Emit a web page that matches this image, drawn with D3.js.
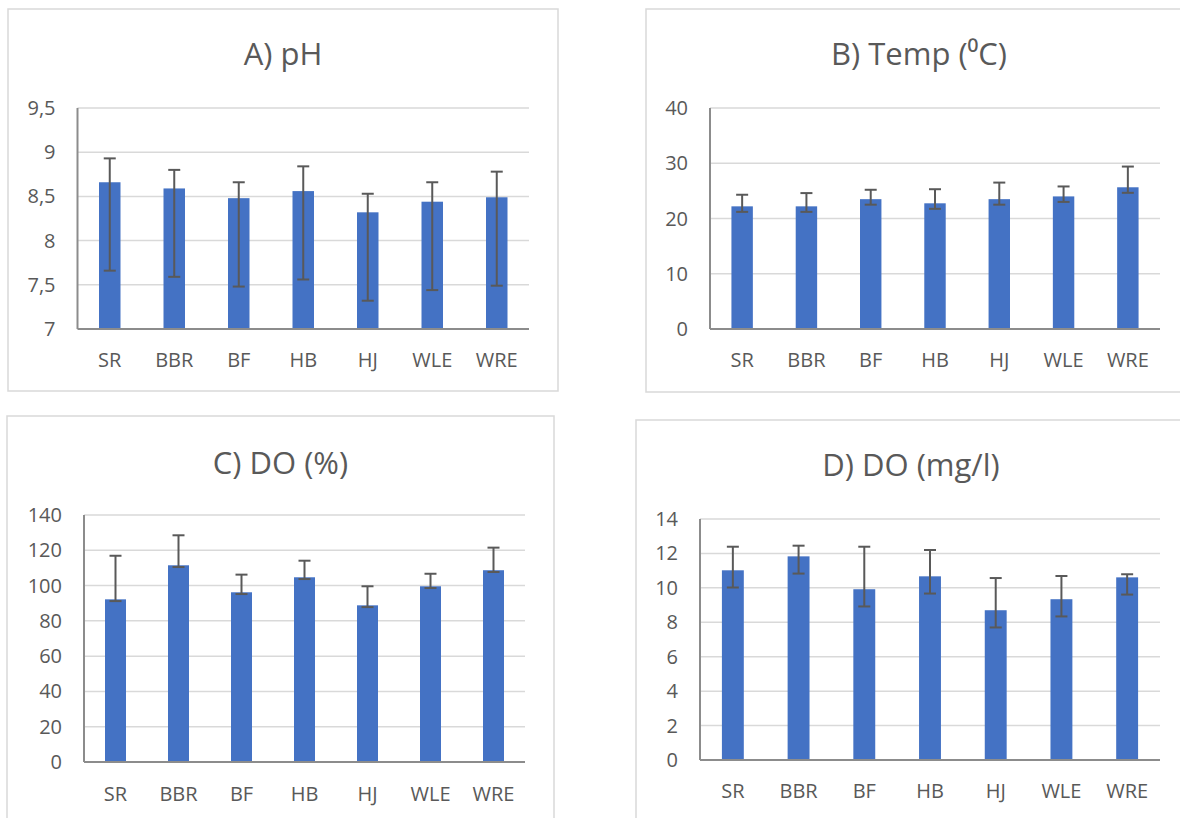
<!DOCTYPE html>
<html>
<head>
<meta charset="utf-8">
<script src="https://cdn.jsdelivr.net/npm/d3@7"></script>
<style>
  html, body { margin: 0; padding: 0; background: #fff; }
  text { font-family: "Open Sans", sans-serif; fill: #595959; }
</style>
</head>
<body>
<div id="js_chart"></div>
<script>
const width = 1180;
const height = 818;

const sites = ["SR", "BBR", "BF", "HB", "HJ", "WLE", "WRE"];

// A) pH
const phMean = [8.66, 8.59, 8.48, 8.56, 8.32, 8.44, 8.49];
const phPlus = [0.27, 0.21, 0.18, 0.28, 0.21, 0.22, 0.29];
const phMinus = [1, 1, 1, 1, 1, 1, 1];
const phTicks = [7, 7.5, 8, 8.5, 9, 9.5];

// B) Temp
const tempMean = [22.2, 22.2, 23.5, 22.75, 23.5, 24.0, 25.65];
const tempPlus = [2.1, 2.4, 1.7, 2.55, 3.0, 1.8, 3.75];
const tempMinus = [1, 1, 1, 1, 1, 1, 1];
const tempTicks = [0, 10, 20, 30, 40];

// C) DO %
const doPctMean = [92.2, 111.5, 96.2, 104.7, 88.8, 99.6, 108.7];
const doPctPlus = [24.7, 17, 10, 9.4, 10.8, 7.1, 12.8];
const doPctMinus = [1, 1, 1, 1, 1, 1, 1];
const doPctTicks = [0, 20, 40, 60, 80, 100, 120, 140];

// D) DO mg/l
const doMgMean = [11.02, 11.83, 9.92, 10.67, 8.70, 9.34, 10.61];
const doMgPlus = [1.37, 0.62, 2.47, 1.53, 1.87, 1.35, 0.18];
const doMgMinus = [1, 1, 1, 1, 1, 1, 1];
const doMgTicks = [0, 2, 4, 6, 8, 10, 12, 14];

const svg = d3.select("#js_chart")
  .append("svg")
  .attr("width", width)
  .attr("height", height)
  .attr("viewBox", [0, 0, width, height]);

const fmt = v => String(v).replace(".", ",");

function drawPanel(p) {
  const g = svg.append("g");

  // chart frame
  g.append("rect")
    .attr("x", p.box[0]).attr("y", p.box[1])
    .attr("width", p.box[2] - p.box[0]).attr("height", p.box[3] - p.box[1])
    .attr("fill", "#fff")
    .attr("stroke", "#d9d9d9")
    .attr("stroke-width", 1.5);

  g.append("text")
    .attr("x", (p.box[0] + p.box[2]) / 2)
    .attr("y", p.titleY)
    .attr("text-anchor", "middle")
    .attr("font-size", 31)
    .text(p.title);

  const x = d3.scaleBand()
    .domain(sites)
    .range([p.plot[0], p.plot[2]])
    .paddingInner(2 / 3)
    .paddingOuter(1 / 3);

  const y = d3.scaleLinear()
    .domain(d3.extent(p.ticks))
    .range([p.plot[3], p.plot[1]]);

  // gridlines
  g.append("g")
    .selectAll("line")
    .data(p.ticks.slice(1))
    .join("line")
      .attr("x1", p.plot[0]).attr("x2", p.plot[2])
      .attr("y1", d => y(d)).attr("y2", d => y(d))
      .attr("stroke", "#d9d9d9")
      .attr("stroke-width", 1.5);

  // y tick labels
  g.append("g")
    .selectAll("text")
    .data(p.ticks)
    .join("text")
      .attr("x", p.plot[0] - 22)
      .attr("y", d => y(d))
      .attr("dy", "0.35em")
      .attr("text-anchor", "end")
      .attr("font-size", 20)
      .text(fmt);

  // bars
  g.append("g")
    .selectAll("rect")
    .data(sites)
    .join("rect")
      .attr("x", d => x(d))
      .attr("width", x.bandwidth())
      .attr("y", (d, i) => y(p.mean[i]))
      .attr("height", (d, i) => y(p.ticks[0]) - y(p.mean[i]))
      .attr("fill", "#4472c4");

  // error bars
  const cap = 6;
  const eb = g.append("g")
    .attr("stroke", "#595959")
    .attr("stroke-width", 2);
  sites.forEach((s, i) => {
    const cx = x(s) + x.bandwidth() / 2;
    const hi = y(p.mean[i] + p.plus[i]);
    const lo = y(p.mean[i] - p.minus[i]);
    eb.append("line").attr("x1", cx).attr("x2", cx).attr("y1", hi).attr("y2", lo);
    eb.append("line").attr("x1", cx - cap).attr("x2", cx + cap).attr("y1", hi).attr("y2", hi);
    eb.append("line").attr("x1", cx - cap).attr("x2", cx + cap).attr("y1", lo).attr("y2", lo);
  });

  // axis lines
  g.append("line")
    .attr("x1", p.plot[0]).attr("x2", p.plot[2])
    .attr("y1", y(p.ticks[0])).attr("y2", y(p.ticks[0]))
    .attr("stroke", "#8c8c8c")
    .attr("stroke-width", 2);
  g.append("line")
    .attr("x1", p.plot[0]).attr("x2", p.plot[0])
    .attr("y1", p.plot[1]).attr("y2", y(p.ticks[0]))
    .attr("stroke", "#8c8c8c")
    .attr("stroke-width", 2);

  // category labels
  g.append("g")
    .selectAll("text")
    .data(sites)
    .join("text")
      .attr("x", d => x(d) + x.bandwidth() / 2)
      .attr("y", p.labelY)
      .attr("text-anchor", "middle")
      .attr("font-size", 20)
      .text(d => d);
}

drawPanel({
  title: "A) pH", mean: phMean, plus: phPlus, minus: phMinus, ticks: phTicks,
  box: [8, 9, 558, 391], plot: [77.5, 108, 529, 329], titleY: 65, labelY: 367
});
drawPanel({
  title: "B) Temp (\u2070C)", mean: tempMean, plus: tempPlus, minus: tempMinus, ticks: tempTicks,
  box: [646, 9, 1192, 392], plot: [710, 108, 1160, 329], titleY: 65, labelY: 367
});
drawPanel({
  title: "C) DO (%)", mean: doPctMean, plus: doPctPlus, minus: doPctMinus, ticks: doPctTicks,
  box: [7, 416, 554, 840], plot: [84, 515, 525, 762], titleY: 474, labelY: 801
});
drawPanel({
  title: "D) DO (mg/l)", mean: doMgMean, plus: doMgPlus, minus: doMgMinus, ticks: doMgTicks,
  box: [636, 420, 1186, 840], plot: [700, 519, 1160, 760], titleY: 476, labelY: 798
});
</script>
</body>
</html>
